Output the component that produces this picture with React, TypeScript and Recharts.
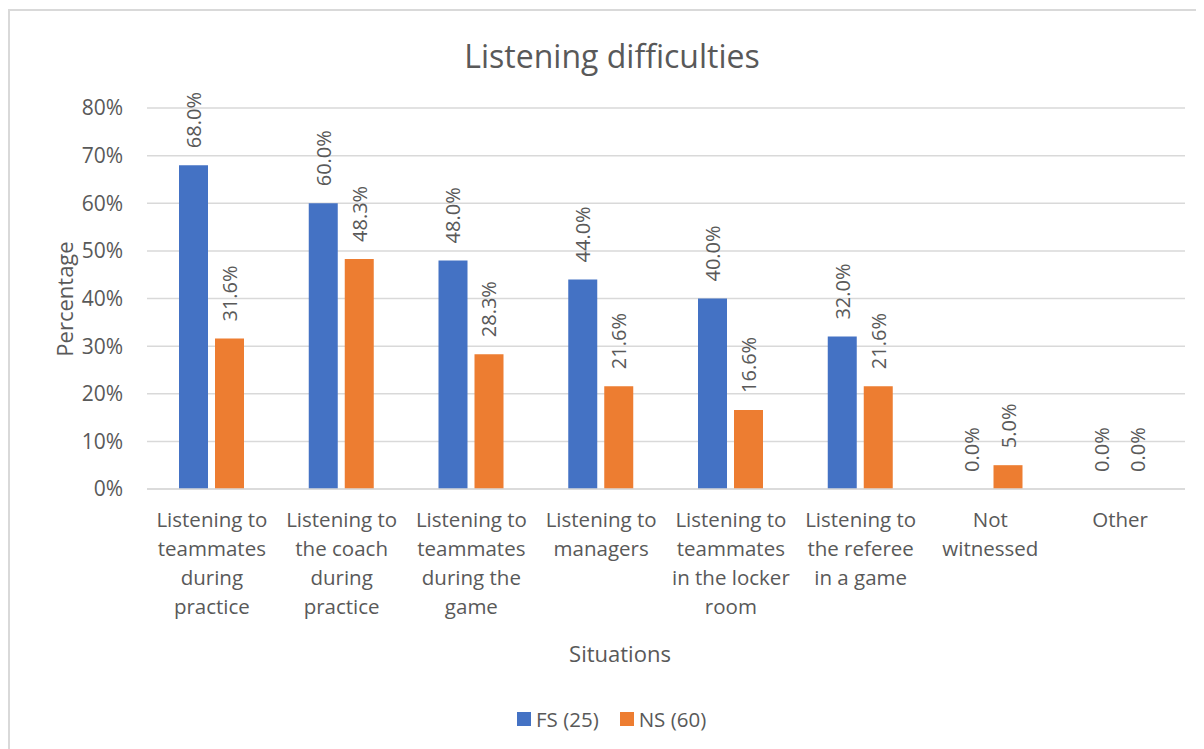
import React from 'react'
import { BarChart, Bar, XAxis, YAxis, CartesianGrid, LabelList } from 'recharts'

// ─── Data ─────────────────────────────────────────────────────────────────────

const categories = [
  'Listening to\nteammates\nduring\npractice',
  'Listening to\nthe coach\nduring\npractice',
  'Listening to\nteammates\nduring the\ngame',
  'Listening to\nmanagers',
  'Listening to\nteammates\nin the locker\nroom',
  'Listening to\nthe referee\nin a game',
  'Not\nwitnessed',
  'Other',
]

const fsValues = [68.0, 60.0, 48.0, 44.0, 40.0, 32.0, 0.0, 0.0]
const nsValues = [31.6, 48.3, 28.3, 21.6, 16.6, 21.6, 5.0, 0.0]

const yTicks = [0, 10, 20, 30, 40, 50, 60, 70, 80]

const FS_COLOR = '#4472C4'
const NS_COLOR = '#ED7D31'
const TEXT = '#595959'
const GRID = '#d9d9d9'
const FONT = '"Open Sans", "Noto Sans", sans-serif'

const data = categories.map((name, i) => ({ name, fs: fsValues[i], ns: nsValues[i] }))

// ─── Helpers ─────────────────────────────────────────────────────────────────

function CategoryTick(props: any) {
  const { x, y, payload } = props
  const lines: string[] = String(payload.value).split('\n')
  return (
    <text x={x} y={y} textAnchor="middle" fill={TEXT} fontSize={20.5} fontFamily={FONT}>
      {lines.map((l, i) => (
        <tspan key={i} x={x} y={y + 30 + i * 29}>
          {l}
        </tspan>
      ))}
    </text>
  )
}

function ValueLabel(props: any) {
  const { x, y, width, height, value } = props
  const top = Math.min(Number(y), Number(y) + Number(height))
  const cx = Number(x) + Number(width) / 2
  const cy = top - 17
  return (
    <text
      x={cx}
      y={cy}
      transform={`rotate(-90 ${cx} ${cy})`}
      textAnchor="start"
      dominantBaseline="central"
      fill={TEXT}
      fontSize={20}
      fontFamily={FONT}
    >
      {Number(value).toFixed(1)}%
    </text>
  )
}

// ─── Component ────────────────────────────────────────────────────────────────

export default function App() {
  return (
    <div
      style={{
        position: 'relative',
        width: 1196,
        height: 745,
        marginTop: 1,
        borderTop: `2px solid ${GRID}`,
        borderLeft: `2px solid ${GRID}`,
        boxSizing: 'border-box',
        fontFamily: FONT,
        color: TEXT,
        background: '#fff',
      }}
    >
      <div
        style={{
          position: 'absolute',
          left: 610 - 8 - 200,
          width: 400,
          top: 25,
          textAlign: 'center',
          fontSize: 32,
          lineHeight: '40px',
        }}
      >
        Listening difficulties
      </div>

      <div
        style={{
          position: 'absolute',
          left: 62 - 8 - 80,
          top: 298 - 10 - 14,
          width: 160,
          height: 28,
          lineHeight: '28px',
          fontSize: 22,
          textAlign: 'center',
          transform: 'rotate(-90deg)',
        }}
      >
        Percentage
      </div>

      <div
        style={{
          position: 'absolute',
          left: 618 - 8 - 100,
          width: 200,
          top: 652 - 10 - 15,
          fontSize: 22,
          textAlign: 'center',
          lineHeight: '30px',
        }}
      >
        Situations
      </div>

      <div
        style={{
          position: 'absolute',
          left: 517 - 10,
          top: 718 - 10 - 14,
          display: 'flex',
          alignItems: 'center',
          fontSize: 20.5,
          lineHeight: '28px',
        }}
      >
        <span style={{ width: 14, height: 14, background: FS_COLOR, display: 'inline-block', marginRight: 5 }} />
        <span style={{ marginRight: 21 }}>FS (25)</span>
        <span style={{ width: 14, height: 14, background: NS_COLOR, display: 'inline-block', marginRight: 5 }} />
        <span>NS (60)</span>
      </div>

      <div style={{ position: 'absolute', left: 0, top: 0 }}>
        <BarChart
          width={1194}
          height={740}
          data={data}
          margin={{ top: 97, right: 19, left: 0, bottom: 0 }}
          barSize={29}
          barGap={7}
        >
          <CartesianGrid vertical={false} stroke={GRID} strokeWidth={1.5} />
          <XAxis
            dataKey="name"
            interval={0}
            height={262}
            tickLine={false}
            axisLine={{ stroke: GRID, strokeWidth: 1.5 }}
            tick={<CategoryTick />}
          />
          <YAxis
            width={137}
            domain={[0, 80]}
            ticks={yTicks}
            tickFormatter={(v: number) => `${v}%`}
            axisLine={false}
            tickLine={false}
            tickSize={0}
            tickMargin={24}
            tick={{ fontSize: 21, fill: TEXT, fontFamily: FONT }}
          />
          <Bar dataKey="fs" fill={FS_COLOR} minPointSize={0.01} isAnimationActive={false}>
            <LabelList dataKey="fs" content={<ValueLabel />} />
          </Bar>
          <Bar dataKey="ns" fill={NS_COLOR} minPointSize={0.01} isAnimationActive={false}>
            <LabelList dataKey="ns" content={<ValueLabel />} />
          </Bar>
        </BarChart>
      </div>
    </div>
  )
}
